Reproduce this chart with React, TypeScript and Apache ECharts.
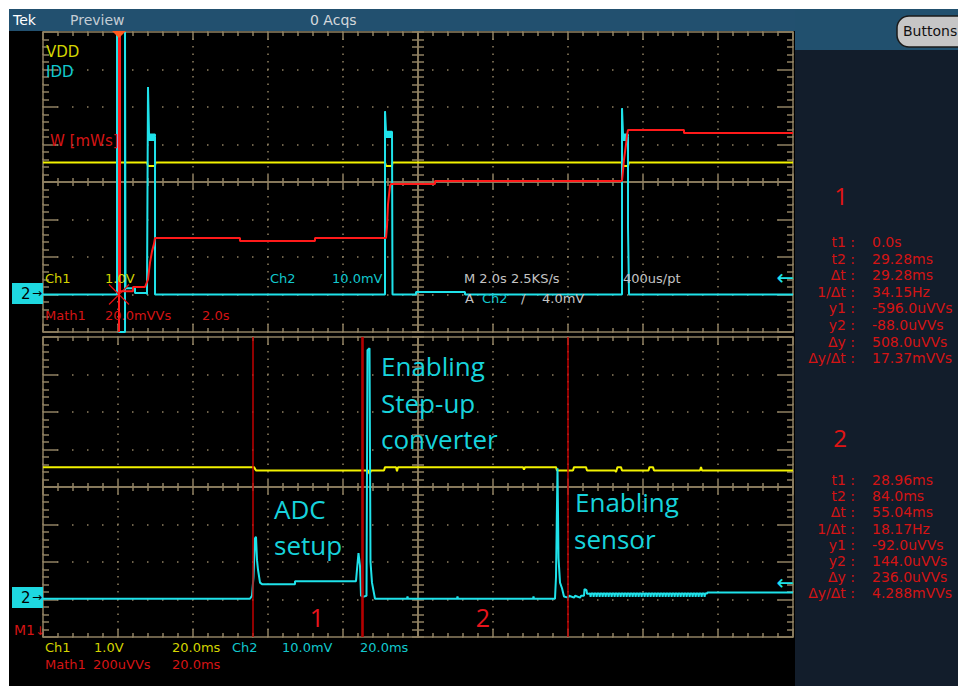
import React, { useEffect, useRef } from "react";
import * as echarts from "echarts";

// ---------------- DATA ----------------
// Top panel (record overview): time in s (2.0 s/div), vertical position in divisions
const topTimeRange = [-2, 18];
const topTimeStep = 2;
// Bottom panel (zoom): time in ms (20.0 ms/div)
const botTimeRange = [-56, 144];
const botTimeStep = 20;
const divRange = [-4, 4];

const topVdd: number[][] = [
  [-2, 0.52], [0.773, 0.52], [0.8, 0.43], [0.987, 0.43], [1.0, 0.52], [7.12, 0.52], [7.147, 0.43],
  [7.307, 0.43], [7.32, 0.52], [13.44, 0.52], [13.467, 0.43], [13.6, 0.43], [13.627, 0.52], [18, 0.52],
];
const topIdd: number[][] = [
  [-2, -3.0], [-0.027, -3.0], [-0.027, 4], [0.027, 4], [0.027, -4], [0.187, -4], [0.187, 4], [0.2, 4],
  [0.2, -2.83], [0.453, -2.83], [0.453, -2.96], [0.773, -2.96], [0.773, -3.0], [0.8, 2.53], [0.827, 1.27],
  [0.987, 1.27], [0.987, 1.22], [0.827, 1.22], [0.827, 1.17], [0.987, 1.17], [0.987, 1.12], [0.827, 1.12],
  [0.827, 1.2], [0.987, 1.2], [0.987, -3.0],
  [7.12, -3.0], [7.12, 1.89], [7.147, 1.34], [7.307, 1.34], [7.307, 1.29], [7.147, 1.29], [7.147, 1.24],
  [7.307, 1.24], [7.307, 1.2], [7.147, 1.2], [7.147, 1.28], [7.307, 1.28], [7.32, -3.0],
  [7.947, -3.0], [7.947, -2.93], [9.253, -2.93], [9.253, -3.0],
  [13.44, -3.0], [13.44, 1.97], [13.467, 1.27], [13.6, 1.27], [13.6, 1.22], [13.467, 1.22], [13.467, 1.17],
  [13.6, 1.17], [13.6, 1.12], [13.467, 1.12], [13.467, 1.2], [13.6, 1.2], [13.6, -1.2], [13.627, -3.0],
  [18, -3.0],
];
const topMath: number[][] = [
  [0.027, -4], [0.027, 4], [0.053, 4], [0.053, -2.91], [0.4, -2.91], [0.4, -2.8], [0.72, -2.8],
  [0.8, -2.6], [0.853, -2.15], [0.907, -1.85], [0.96, -1.65], [0.987, -1.49], [3.253, -1.49],
  [3.253, -1.57], [5.253, -1.57], [5.253, -1.49], [7.147, -1.49], [7.173, -1.2], [7.2, -0.6],
  [7.253, -0.1], [7.28, -0.05], [8.453, -0.05], [8.453, 0.03], [13.44, 0.03], [13.467, 0.3],
  [13.493, 0.6], [13.52, 0.8], [13.547, 1.0], [13.573, 1.25], [13.6, 1.39], [15.093, 1.39],
  [15.093, 1.31], [18, 1.31],
];
const triggerPoint = [0.027, -3.0];

const botVdd: number[][] = [
  [-56, 0.53], [0.27, 0.53], [0.8, 0.44], [30.67, 0.44], [31.07, 0.35], [31.47, 0.44], [34.93, 0.44],
  [35.2, 0.53], [38.13, 0.53], [38.4, 0.42], [38.67, 0.53], [72.0, 0.53], [72.27, 0.46], [72.53, 0.53],
  [80.8, 0.53], [81.07, 0.44], [85.33, 0.44], [85.6, 0.53], [88.8, 0.53], [89.07, 0.44], [96.53, 0.44],
  [96.8, 0.4], [97.2, 0.53], [98.13, 0.53], [98.4, 0.44], [105.47, 0.44], [105.73, 0.53], [106.67, 0.53],
  [106.93, 0.44], [119.2, 0.44], [119.47, 0.53], [119.73, 0.44], [144, 0.44],
];
const botIddHead: number[][] = [
  [-56, -2.98], [-0.8, -2.98], [-0.27, -2.9], [0.13, -2.4], [0.53, -1.37], [0.8, -1.33], [1.07, -1.95],
  [1.33, -2.2], [1.87, -2.55], [2.4, -2.59], [11.2, -2.59], [11.2, -2.51], [27.47, -2.51], [27.73, -2.2],
  [28.13, -1.76], [28.53, -2.1], [28.8, -2.9], [29.33, -2.93], [30.27, -2.9], [30.53, 3.65], [31.07, 3.7],
  [31.33, -2.0], [31.73, -2.55], [32.53, -2.98], [41.07, -2.98], [41.2, -2.92], [41.33, -2.98],
  [54.4, -2.98], [54.53, -2.92], [54.67, -2.98], [74.67, -2.98], [74.8, -2.92], [74.93, -2.98],
  [80.53, -2.98], [80.8, -2.4], [81.2, 0.5], [81.33, 0.5], [81.47, -1.9], [81.87, -2.55], [82.4, -2.7],
  [82.93, -2.92], [84.0, -2.95], [84.3, -2.9], [85.6, -2.95], [85.9, -2.9], [87.2, -2.95], [87.5, -2.9],
  [88.27, -2.9], [88.4, -2.72], [88.93, -2.75], [89.07, -2.85],
];
const botRippleDips = [
  89.9, 90.7, 91.5, 92.3, 93.1, 93.9, 94.7, 95.5, 96.3, 97.1, 97.9, 98.7, 99.5, 100.3, 101.1, 101.9,
  102.7, 103.5, 104.3, 105.1, 105.9, 106.7, 107.5, 108.3, 109.1, 109.9, 110.7, 111.5, 112.3, 113.1,
  113.9, 114.7, 115.5, 116.3, 117.1, 117.9, 118.7, 119.5, 120.3,
];
const rippleHigh = -2.84;
const rippleLow = -2.93;
const botIddTail: number[][] = [[121.07, -2.84], [121.2, -2.81], [144, -2.81]];
const cursorTimes = [0, 28.96, 29.28, 84.0];

const cursorLabels = ["t1 :", "t2 :", "Δt :", "1/Δt :", "y1 :", "y2 :", "Δy :", "Δy/Δt :"];
const cursor1Values = ["0.0s", "29.28ms", "29.28ms", "34.15Hz", "-596.0uVVs", "-88.0uVVs", "508.0uVVs", "17.37mVVs"];
const cursor2Values = ["28.96ms", "84.0ms", "55.04ms", "18.17Hz", "-92.0uVVs", "144.0uVVs", "236.0uVVs", "4.288mVVs"];

// ---------------- STYLE ----------------
const GRAT = "#8f8062";
const YEL = "#f2f200";
const CYA = "#1fe2ea";
const RED = "#ff1a1a";
const YEL_T = "#d4d400";
const CYA_T = "#12c8cf";
const RED_T = "#d41414";
const GREY_T = "#c4c4c4";
const ANN = "#17d3dc";
const MONO = "DejaVu Sans";
const SANS = "Open Sans";

const gl = { color: GRAT, width: 1.5 };

function xAxes(grid: number, range: number[], step: number, half: number) {
  const base: any = {
    type: "value", gridIndex: grid, min: range[0], max: range[1], interval: step, silent: true,
    axisLabel: { show: false }, splitLine: { show: false },
    axisLine: { show: true, onZero: false, lineStyle: gl },
  };
  return [
    { ...base, position: "bottom", axisTick: { show: true, inside: true, length: 8, lineStyle: gl },
      minorTick: { show: true, splitNumber: 5, length: 4, lineStyle: gl },
      splitLine: { show: true, lineStyle: { color: GRAT, width: 1.5, type: [1.5, 6], dashOffset: 0.75 } } },
    { ...base, position: "top", axisTick: { show: true, inside: true, length: 8, lineStyle: gl },
      minorTick: { show: true, splitNumber: 5, length: 4, lineStyle: gl } },
    { ...base, position: "bottom", offset: -half, axisTick: { show: true, inside: true, length: 7, lineStyle: gl },
      minorTick: { show: true, splitNumber: 5, length: 4, lineStyle: gl } },
    { ...base, position: "top", offset: -half, axisTick: { show: true, inside: true, length: 7, lineStyle: gl },
      minorTick: { show: true, splitNumber: 5, length: 4, lineStyle: gl } },
  ];
}
function yAxes(grid: number, half: number) {
  const base: any = {
    type: "value", gridIndex: grid, min: divRange[0], max: divRange[1], interval: 1, silent: true,
    axisLabel: { show: false }, splitLine: { show: false },
    axisLine: { show: true, onZero: false, lineStyle: gl },
  };
  return [
    { ...base, position: "left", axisTick: { show: true, inside: true, length: 15, lineStyle: gl },
      minorTick: { show: true, splitNumber: 5, length: 6, lineStyle: gl },
      splitLine: { show: true, lineStyle: { color: GRAT, width: 1.5, type: [1.5, 13.5], dashOffset: 0.75 } } },
    { ...base, position: "right", axisTick: { show: true, inside: true, length: 15, lineStyle: gl },
      minorTick: { show: true, splitNumber: 5, length: 6, lineStyle: gl } },
    { ...base, position: "left", offset: -half, axisTick: { show: true, inside: true, length: 6, lineStyle: gl },
      minorTick: { show: true, splitNumber: 5, length: 6, lineStyle: gl } },
    { ...base, position: "right", offset: -half, axisTick: { show: true, inside: true, length: 6, lineStyle: gl },
      minorTick: { show: true, splitNumber: 5, length: 6, lineStyle: gl } },
  ];
}

function trace(name: string, data: number[][], color: string, ai: number, z: number, extra: any = {}) {
  return {
    type: "line", name, data, xAxisIndex: ai, yAxisIndex: ai, symbol: "none", showSymbol: false,
    clip: true, silent: true, z, lineStyle: { color, width: 2 }, emphasis: { disabled: true }, ...extra,
  };
}

function T(x: number, y: number, text: string, fill: string, size: number, family = MONO, align = "left") {
  return {
    type: "text", x, y, z: 100, silent: true,
    style: { text, fill, font: `${size}px "${family}"`, textAlign: align, textVerticalAlign: "middle" },
  };
}

export default function App() {
  const ref = useRef<HTMLDivElement>(null);
  useEffect(() => {
    if (!ref.current) return;
    const chart = echarts.init(ref.current, null, { renderer: "svg", width: 958, height: 686 });

    const ripple: number[][] = [];
    botRippleDips.forEach((t) => {
      ripple.push([t, rippleHigh], [t + 0.13, rippleLow], [t + 0.27, rippleHigh]);
    });
    const botIdd = [...botIddHead, ...ripple, ...botIddTail];

    const graphics: any[] = [
      { type: "rect", shape: { x: 0, y: 0, width: 9, height: 686 }, style: { fill: "#ffffff" } },
      { type: "rect", shape: { x: 0, y: 0, width: 958, height: 9 }, style: { fill: "#ffffff" } },
      { type: "rect", shape: { x: 9, y: 9, width: 786, height: 22 }, style: { fill: "#22506f" } },
      { type: "rect", shape: { x: 795, y: 9, width: 163, height: 41 }, style: { fill: "#21506e" } },
      { type: "rect", shape: { x: 795, y: 50, width: 163, height: 636 }, style: { fill: "#121d2b" } },
      { type: "rect", shape: { x: 897, y: 16, width: 75, height: 31, r: 12 },
        style: { fill: "#c6c6c6", stroke: "#1a1a1a", lineWidth: 1.5 }, z: 90 },
      T(903, 31, "Buttons", "#111111", 14),
      T(13, 20, "Tek", "#ffffff", 14),
      T(70, 20, "Preview", "#c4ccd4", 14),
      T(310, 20, "0 Acqs", "#d4d8dc", 14),
      // trigger position marker
      { type: "polygon", z: 100, shape: { points: [[112, 31], [126, 31], [119, 38]] }, style: { fill: "#ff5a1e" } },
      // channel reference markers
      { type: "rect", z: 100, shape: { x: 12, y: 283, width: 31, height: 21 }, style: { fill: "#1ed8e0" } },
      T(21, 294, "2", "#000000", 15),
      T(32, 293, "→", "#000000", 12),
      { type: "rect", z: 100, shape: { x: 12, y: 587, width: 31, height: 21 }, style: { fill: "#1ed8e0" } },
      T(21, 598, "2", "#000000", 15),
      T(32, 597, "→", "#000000", 12),
      T(14, 630, "M1", RED_T, 14),
      T(35, 631, "↓", RED_T, 12),
      T(794, 278, "←", CYA, 21, MONO, "right"),
      T(794, 583, "←", CYA, 21, MONO, "right"),
      // top panel read-outs
      T(46, 52, "VDD", YEL_T, 15),
      T(46, 72, "IDD", CYA_T, 15),
      T(50, 141, "W [mWs]", RED_T, 15),
      T(45, 278, "Ch1", YEL_T, 13),
      T(105, 278, "1.0V", YEL_T, 13),
      T(270, 278, "Ch2", CYA_T, 13),
      T(332, 278, "10.0mV", CYA_T, 13),
      T(464, 278, "M 2.0s 2.5KS/s", GREY_T, 13),
      T(623, 278, "400us/pt", GREY_T, 13),
      T(465, 298, "A", GREY_T, 13),
      T(482, 298, "Ch2", CYA_T, 13),
      T(521, 298, "/", GREY_T, 13),
      T(542, 298, "4.0mV", GREY_T, 13),
      T(45, 315, "Math1", RED_T, 13),
      T(105, 315, "20.0mVVs", RED_T, 13),
      T(202, 315, "2.0s", RED_T, 13),
      // bottom footer
      T(45, 647, "Ch1", YEL_T, 13),
      T(94, 647, "1.0V", YEL_T, 13),
      T(172, 647, "20.0ms", YEL_T, 13),
      T(232, 647, "Ch2", CYA_T, 13),
      T(282, 647, "10.0mV", CYA_T, 13),
      T(360, 647, "20.0ms", CYA_T, 13),
      T(45, 664, "Math1", RED_T, 13),
      T(93, 664, "200uVVs", RED_T, 13),
      T(172, 664, "20.0ms", RED_T, 13),
      // annotations
      T(381, 366, "Enabling", ANN, 26, SANS),
      T(381, 403, "Step-up", ANN, 26, SANS),
      T(381, 439, "converter", ANN, 26, SANS),
      T(274, 509, "ADC", ANN, 26, SANS),
      T(274, 545, "setup", ANN, 26, SANS),
      T(575, 502, "Enabling", ANN, 26, SANS),
      T(574, 539, "sensor", ANN, 26, SANS),
      T(317, 617, "1", "#e8141c", 25, SANS, "center"),
      T(483, 617, "2", "#e8141c", 25, SANS, "center"),
      // sidebar
      T(841, 195, "1", "#e01414", 24, SANS, "center"),
      T(840, 437, "2", "#e01414", 24, SANS, "center"),
    ];
    cursorLabels.forEach((lab, i) => {
      graphics.push(T(855, 242 + i * 16.6, lab, RED_T, 14, MONO, "right"));
      graphics.push(T(872, 242 + i * 16.6, cursor1Values[i], RED_T, 14));
      graphics.push(T(855, 480 + i * 16.2, lab, RED_T, 14, MONO, "right"));
      graphics.push(T(872, 480 + i * 16.2, cursor2Values[i], RED_T, 14));
    });

    const option: any = {
      animation: false,
      backgroundColor: "#000000",
      grid: [
        { left: 43, top: 32, width: 750, height: 300, outerBoundsMode: "none" },
        { left: 43, top: 337, width: 750, height: 300, outerBoundsMode: "none" },
      ],
      xAxis: [...xAxes(0, topTimeRange, topTimeStep, 150), ...xAxes(1, botTimeRange, botTimeStep, 150)],
      yAxis: [...yAxes(0, 375), ...yAxes(1, 375)],
      series: [
        trace("VDD", topVdd, YEL, 0, 3),
        trace("IDD", topIdd, CYA, 0, 4),
        trace("W", topMath, RED, 0, 5, {
          markPoint: {
            silent: true, symbol: "path://M0 0L20 20M20 0L0 20", symbolSize: 20,
            itemStyle: { color: "rgba(0,0,0,0)", borderColor: "#e01010", borderWidth: 1.2 },
            label: { show: false },
            data: [{ coord: triggerPoint }],
          },
        }),
        {
          type: "line", name: "cursors", data: [], xAxisIndex: 4, yAxisIndex: 4, z: 2, silent: true,
          markLine: {
            silent: true, symbol: ["none", "none"], label: { show: false },
            lineStyle: { color: "#c00000", width: 1.5, type: "solid" },
            data: cursorTimes.map((t) => ({ xAxis: t })),
          },
        },
        trace("VDD zoom", botVdd, YEL, 4, 3),
        trace("IDD zoom", botIdd, CYA, 4, 4),
      ],
      graphic: graphics,
    };
    chart.setOption(option);
    return () => chart.dispose();
  }, []);
  return <div ref={ref} style={{ position: "fixed", left: 0, top: 0, width: 958, height: 686 }} />;
}
